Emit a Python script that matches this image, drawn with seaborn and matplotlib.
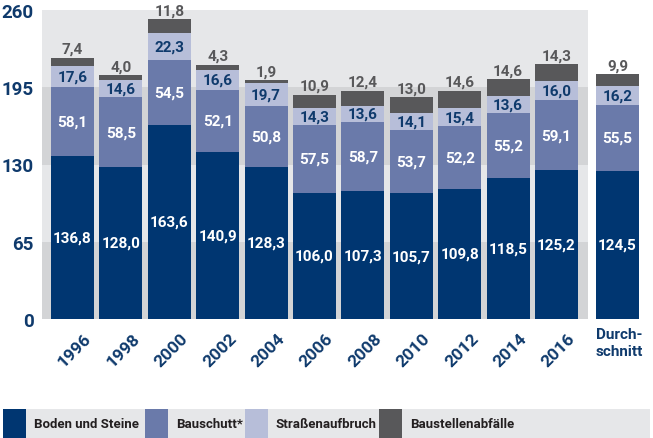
import numpy as np
import pandas as pd
import matplotlib.pyplot as plt
import matplotlib.transforms as mtransforms
from matplotlib.patches import Rectangle
import seaborn as sns

years = ['1996', '1998', '2000', '2002', '2004', '2006', '2008', '2010',
         '2012', '2014', '2016', 'Durch-\nschnitt']
boden = [136.8, 128.0, 163.6, 140.9, 128.3, 106.0, 107.3, 105.7, 109.8, 118.5, 125.2, 124.5]
bauschutt = [58.1, 58.5, 54.5, 52.1, 50.8, 57.5, 58.7, 53.7, 52.2, 55.2, 59.1, 55.5]
strasse = [17.6, 14.6, 22.3, 16.6, 19.7, 14.3, 13.6, 14.1, 15.4, 13.6, 16.0, 16.2]
baustelle = [7.4, 4.0, 11.8, 4.3, 1.9, 10.9, 12.4, 13.0, 14.6, 14.6, 14.3, 9.9]
series_names = ['Boden und Steine', 'Bauschutt*', 'Straßenaufbruch', 'Baustellenabfälle']
yticks = [0, 65, 130, 195, 260]

colors = ['#003671', '#6a7aaa', '#b7bed9', '#58585a']
navy = '#0f3a6c'
plt.rcParams['font.family'] = ['Roboto', 'DejaVu Sans']

# positions: years evenly spaced, average set apart a little
pos = list(np.arange(11, dtype=float)) + [11.26]
df = pd.DataFrame({'pos': pos, 'boden': boden, 'bauschutt': bauschutt,
                   'strasse': strasse, 'baustelle': baustelle})
layers = ['boden', 'bauschutt', 'strasse', 'baustelle']
cum = df[layers].cumsum(axis=1)

fig = plt.figure(figsize=(6.53, 4.39), dpi=100)
ax = fig.add_axes([42 / 653, 1 - 320 / 439, 598 / 653, 309 / 439])

# background bands, stop before the average bar
band_frac = (588 - 42) / 598
for i in range(4):
    c = '#d3d4d6' if i % 2 == 0 else '#e6e7e9'
    ax.axhspan(yticks[i], yticks[i + 1], xmin=0, xmax=band_frac, color=c, lw=0, zorder=0)

w = 0.89
for k in range(3, -1, -1):
    d = pd.DataFrame({'pos': df['pos'], 'top': cum[layers[k]]})
    sns.barplot(data=d, x='pos', y='top', native_scale=True, width=w,
                color=colors[k], saturation=1, errorbar=None, ax=ax, zorder=2)

def fmt(v):
    return f'{v:.1f}'.replace('.', ',')

for i in range(len(pos)):
    b0 = 0
    for k, lay in enumerate(layers):
        v = df[lay][i]
        if k < 3:
            tc = 'white' if k < 2 else navy
            ax.text(pos[i], b0 + v / 2, fmt(v), ha='center', va='center',
                    color=tc, fontsize=11, fontweight='bold', zorder=3)
        else:
            ax.text(pos[i], b0 + v + 1.5, fmt(v), ha='center', va='bottom',
                    color='#58585a', fontsize=11, fontweight='bold', zorder=3)
        b0 += v

ax.set_xlim(-0.63, 11.725)
ax.set_ylim(0, 260)
ax.set_yticks(yticks)
ax.set_yticklabels([str(t) for t in yticks], fontsize=13.5, fontweight='bold', color=navy)
ax.tick_params(axis='y', length=0, pad=6)
ax.set_xticks(pos[:11])
ax.set_xticklabels(years[:11], rotation=45, ha='right', rotation_mode='anchor',
                   fontsize=12.5, fontweight='bold', color=navy)
ax.tick_params(axis='x', length=0, pad=4)
shift = mtransforms.ScaledTranslation(8 / 72, -4 / 72, fig.dpi_scale_trans)
for lab in ax.get_xticklabels():
    lab.set_transform(lab.get_transform() + shift)
ax.text(pos[11] - w / 2, -0.025, years[11], transform=ax.get_xaxis_transform(),
        ha='left', va='top', fontsize=11, fontweight='bold', color=navy, linespacing=1.3)
ax.set_xlabel('')
ax.set_ylabel('')
for s in ax.spines.values():
    s.set_visible(False)

# legend strip along the bottom
W, H = 653, 439
hgt = 29 / H
entries = [(3, 26, 145), (145, 168, 245), (245, 268, 379), (379, 402, 650)]
for (a, b, c), col, name in zip(entries, colors, series_names):
    fig.add_artist(Rectangle((b / W, 0), (c - b) / W, hgt, transform=fig.transFigure,
                             facecolor='#e6e7e9', edgecolor='none', zorder=1))
    fig.add_artist(Rectangle((a / W, 0), (b - a) / W, hgt, transform=fig.transFigure,
                             facecolor=col, edgecolor='none', zorder=2))
    fig.text((b + 8) / W, hgt / 2, name, ha='left', va='center',
             fontsize=9.5, fontweight='bold', color='#231f20', zorder=3)

fig.savefig('out.png', dpi=100)
